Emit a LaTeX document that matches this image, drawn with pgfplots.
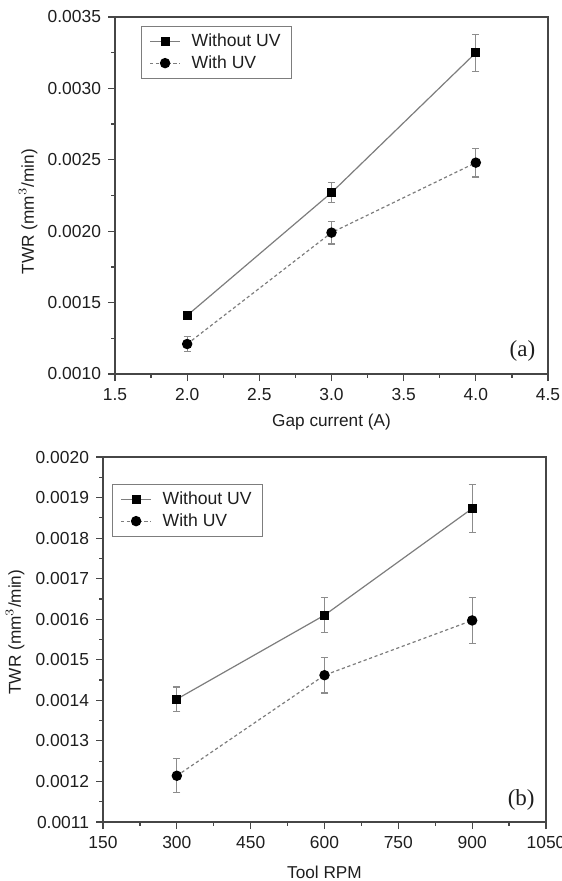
\documentclass[border=0pt]{standalone}
\usepackage{fontspec}
\setmainfont{Liberation Sans}
\newfontfamily\timesfont{Liberation Serif}
\usepackage{pgfplots}
\pgfplotsset{compat=1.18}

\definecolor{lngray}{RGB}{125,125,125}
\definecolor{errgray}{RGB}{140,140,140}
\definecolor{framegray}{RGB}{70,70,70}
\definecolor{txt}{RGB}{30,30,30}

\pgfplotsset{
  panel/.style={
    scale only axis,
    anchor=south west,
    axis line style={framegray, line width=0.9pt},
    tick align=outside,
    xtick pos=bottom, ytick pos=left,
    major tick length=3.5pt, minor tick length=1.8pt,
    every tick/.style={framegray, line width=0.6pt},
    minor tick num=1,
    tick label style={font=\fontsize{8.7}{10}\selectfont, txt},
    label style={font=\fontsize{8.6}{10}\selectfont, txt},
    /pgf/number format/assume math mode=true,
    /pgf/number format/1000 sep={},
    scaled y ticks=false,
    yticklabel style={/pgf/number format/.cd, fixed, fixed zerofill, precision=4},
    legend style={draw=lngray, line width=0.5pt, fill=white,
      font=\fontsize{8.8}{10}\selectfont, text=txt,
      inner xsep=4pt, inner ysep=2pt, row sep=0pt, column sep=4pt,
      nodes={inner sep=1.5pt}},
    legend cell align=left,
    legend image code/.code={
      \draw[mark repeat=2, mark phase=2, ##1]
        plot coordinates {(0pt,0pt) (7.5pt,0pt) (15pt,0pt)};
    },
    clip=false,
  },
  woUV/.style={lngray, line width=0.6pt, mark=square*, mark size=2pt,
    mark options={solid, fill=black, draw=black},
    error bars/.cd, y dir=both, y explicit,
    error bar style={errgray, line width=0.6pt, solid},
    error mark options={rotate=90, mark size=1.8pt, errgray, line width=0.6pt}},
  wUV/.style={lngray, line width=0.6pt, dash pattern=on 1.6pt off 1.3pt,
    mark=*, mark size=2.3pt,
    mark options={solid, fill=black, draw=black},
    error bars/.cd, y dir=both, y explicit,
    error bar style={errgray, line width=0.6pt, solid},
    error mark options={rotate=90, mark size=1.8pt, errgray, line width=0.6pt}},
}

\begin{document}
\begin{tikzpicture}
\path[use as bounding box] (0pt,0pt) rectangle (280.5pt,-440.5pt);

% (a) gap current
\begin{axis}[
  panel,
  at={(57.5pt,-187pt)},
  width=216.5pt, height=178.5pt,
  xmin=1.5, xmax=4.5, ymin=0.0010, ymax=0.0035,
  xtick={1.5,2.0,...,4.5},
  ytick={0.0010,0.0015,0.0020,0.0025,0.0030,0.0035},
  xticklabel style={/pgf/number format/.cd, fixed, fixed zerofill, precision=1},
  xlabel={Gap current (A)},
  ylabel={TWR (mm$^{3}$/min)},
  xlabel style={at={(axis description cs:0.5,0)}, anchor=center, yshift=-24pt},
  ylabel style={at={(axis description cs:0,0.455)}, anchor=center, yshift=43.5pt},
  legend style={at={(axis description cs:0,1)}, anchor=north west, xshift=13pt, yshift=-4.5pt},
]
\addplot[woUV] coordinates {
  (2,0.00141) +- (0,0.00002)
  (3,0.00227) +- (0,0.00007)
  (4,0.00325) +- (0,0.00013)
};
\addlegendentry{Without UV}
\addplot[wUV] coordinates {
  (2,0.00121) +- (0,0.00005)
  (3,0.00199) +- (0,0.00008)
  (4,0.00248) +- (0,0.00010)
};
\addlegendentry{With UV}
\node[font=\timesfont\fontsize{11.5}{13}\selectfont, text=txt] at (rel axis cs:0.941,0.064) {(a)};
\end{axis}

% (b) tool rpm
\begin{axis}[
  panel,
  at={(51.5pt,-411pt)},
  width=221.5pt, height=182.5pt,
  xmin=150, xmax=1050, ymin=0.0011, ymax=0.0020,
  xtick={150,300,...,1050},
  ytick={0.0011,0.0012,0.0013,0.0014,0.0015,0.0016,0.0017,0.0018,0.0019,0.0020},
  xlabel={Tool RPM},
  ylabel={TWR (mm$^{3}$/min)},
  xlabel style={at={(axis description cs:0.5,0)}, anchor=center, yshift=-25pt},
  ylabel style={at={(axis description cs:0,0.52)}, anchor=center, yshift=44pt},
  legend style={at={(axis description cs:0,1)}, anchor=north west, xshift=4.5pt, yshift=-13.5pt},
]
\addplot[woUV] coordinates {
  (300,0.001403) +- (0,0.00003)
  (600,0.001610) +- (0,0.000043)
  (900,0.001873) +- (0,0.00006)
};
\addlegendentry{Without UV}
\addplot[wUV] coordinates {
  (300,0.001214) +- (0,0.000042)
  (600,0.001462) +- (0,0.000044)
  (900,0.001597) +- (0,0.000057)
};
\addlegendentry{With UV}
\node[font=\timesfont\fontsize{11.5}{13}\selectfont, text=txt] at (rel axis cs:0.944,0.06) {(b)};
\end{axis}
\end{tikzpicture}
\end{document}
